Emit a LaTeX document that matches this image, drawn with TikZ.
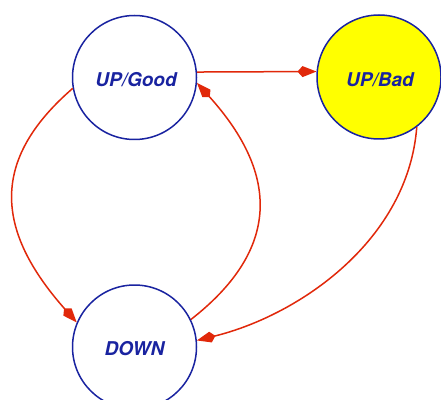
\documentclass[tikz,border=0pt]{standalone}
\usepackage{fontspec}
\setsansfont{TeX Gyre Heros}
\usetikzlibrary{arrows.meta}
\definecolor{stblue}{RGB}{25,35,160}
\definecolor{stred}{RGB}{225,40,10}
\definecolor{styellow}{RGB}{255,255,0}
\tikzset{
  statenode/.style={circle, draw=stblue, line width=1.5pt, minimum size=124pt, inner sep=0pt,
    text=stblue, font=\sffamily\bfseries\itshape\fontsize{19}{22}\selectfont},
  statetext/.style={text=stblue, font=\sffamily\bfseries\itshape\fontsize{19}{22}\selectfont, inner sep=0pt},
  trans/.style={draw=stred, line width=1.5pt, -{Kite[length=19pt, width=11pt, inset=5pt]}}
}
\begin{document}
\begin{tikzpicture}[x=1pt,y=1pt]
\useasboundingbox (0,0) rectangle (441,399);
\fill[white] (0,0) rectangle (441,399);
\node[statenode, fill=white] (g) at (134.5,321.5) {};
\node[statenode, fill=styellow] (b) at (379,322) {};
\node[statenode, fill=white] (d) at (134.5,52) {};
\node[statetext] (gt) at (136,319) {UP/Good};
\node[statetext] (bt) at (380,319) {UP/Bad};
\node[statetext] (dt) at (134.5,50) {DOWN};
\draw[trans] (g.5) -- (b.175);
\draw[trans] (g.190) .. controls (-10,239) and (-5,169) .. (d.157);
\draw[trans] (d.26) .. controls (280,149) and (280,224) .. (g.-5);
\draw[trans] (b.-53) .. controls (408,159) and (300,84) .. (d.6);
\end{tikzpicture}
\end{document}
